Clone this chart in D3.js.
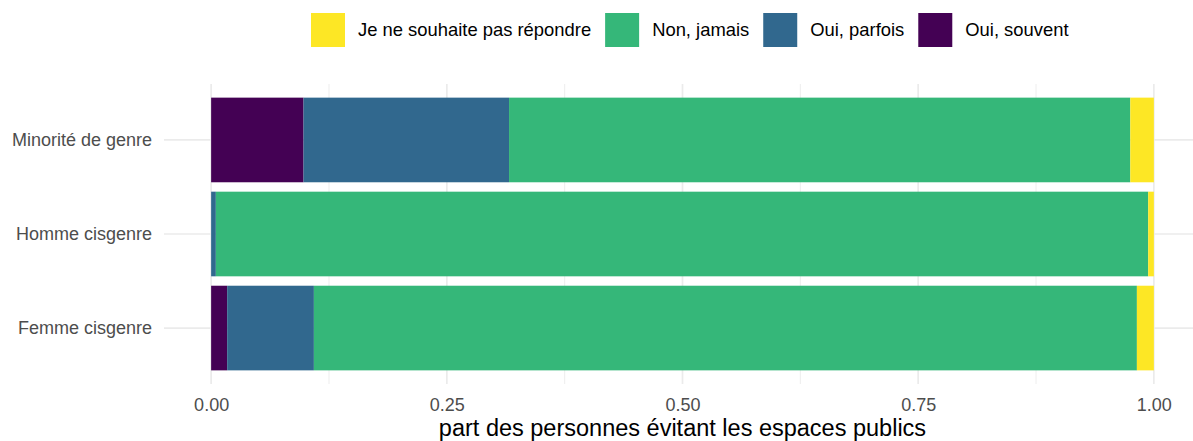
<!DOCTYPE html>
<html>
<head>
<meta charset="utf-8">
<script src="https://cdn.jsdelivr.net/npm/d3@7"></script>
<style>
  body { margin: 0; background: #fff; }
  text { font-family: "Liberation Sans", Arial, sans-serif; }
</style>
</head>
<body>
<div id="chart"></div>
<script>
/* ===== Data ===== */

const categories = ["Minorité de genre", "Homme cisgenre", "Femme cisgenre"];
const answers = ["Oui, souvent", "Oui, parfois", "Non, jamais", "Je ne souhaite pas répondre"];
const legendOrder = ["Je ne souhaite pas répondre", "Non, jamais", "Oui, parfois", "Oui, souvent"];

const souvent = [0.098, 0.000, 0.017];
const parfois = [0.218, 0.005, 0.092];
const jamais  = [0.659, 0.989, 0.873];
const nsp     = [0.025, 0.006, 0.018];

const xTicks = [0, 0.25, 0.5, 0.75, 1];
const xMinor = [0.125, 0.375, 0.625, 0.875];

const colors = {
  "Oui, souvent": "#440154",
  "Oui, parfois": "#31688E",
  "Non, jamais": "#35B779",
  "Je ne souhaite pas répondre": "#FDE725"
};

const rows = categories.map((c, i) => ({
  cat: c,
  "Oui, souvent": souvent[i],
  "Oui, parfois": parfois[i],
  "Non, jamais": jamais[i],
  "Je ne souhaite pas répondre": nsp[i]
}));

/* ===== Layout ===== */

const W = 1193, H = 441;
const panel = { left: 164, right: 1201, top: 84, bottom: 384 };

const svg = d3.select("#chart").append("svg")
  .attr("width", W)
  .attr("height", H);

const x = d3.scaleLinear()
  .domain([-0.05, 1.05])
  .range([panel.left, panel.right]);

const y = d3.scaleBand()
  .domain(categories)
  .range([panel.top, panel.bottom])
  .paddingInner(0.1)
  .paddingOuter(0.145);

/* ===== Grid ===== */

const grid = svg.append("g");

grid.selectAll(".minor")
  .data(xMinor)
  .enter().append("line")
  .attr("x1", d => x(d)).attr("x2", d => x(d))
  .attr("y1", panel.top).attr("y2", panel.bottom)
  .attr("stroke", "#ebebeb").attr("stroke-width", 0.9);

grid.selectAll(".major")
  .data(xTicks)
  .enter().append("line")
  .attr("x1", d => x(d)).attr("x2", d => x(d))
  .attr("y1", panel.top).attr("y2", panel.bottom)
  .attr("stroke", "#ebebeb").attr("stroke-width", 1.7);

grid.selectAll(".hmajor")
  .data(categories)
  .enter().append("line")
  .attr("x1", panel.left).attr("x2", panel.right)
  .attr("y1", d => y(d) + y.bandwidth() / 2)
  .attr("y2", d => y(d) + y.bandwidth() / 2)
  .attr("stroke", "#ebebeb").attr("stroke-width", 1.7);

/* ===== Bars ===== */

const stacked = d3.stack().keys(answers)(rows);

svg.append("g")
  .selectAll("g")
  .data(stacked)
  .enter().append("g")
  .attr("fill", d => colors[d.key])
  .selectAll("rect")
  .data(d => d)
  .enter().append("rect")
  .attr("x", d => x(d[0]))
  .attr("width", d => x(d[1]) - x(d[0]))
  .attr("y", d => y(d.data.cat))
  .attr("height", y.bandwidth());

/* ===== Axes ===== */

const xAxis = svg.append("g")
  .attr("transform", `translate(0,${panel.bottom})`)
  .call(d3.axisBottom(x).tickValues(xTicks).tickFormat(d3.format(".2f")).tickSize(0).tickPadding(14));
xAxis.select(".domain").remove();
xAxis.selectAll("text")
  .style("font-size", "18px")
  .attr("fill", "#4d4d4d");

const yAxis = svg.append("g")
  .attr("transform", `translate(${panel.left},0)`)
  .call(d3.axisLeft(y).tickSize(0).tickPadding(12));
yAxis.select(".domain").remove();
yAxis.selectAll("text")
  .style("font-size", "18px")
  .attr("fill", "#4d4d4d");

svg.append("text")
  .attr("x", (panel.left + panel.right) / 2)
  .attr("y", 436)
  .attr("text-anchor", "middle")
  .style("font-size", "23.5px")
  .attr("fill", "#000")
  .text("part des personnes évitant les espaces publics");

/* ===== Legend ===== */

const legend = svg.append("g");
let lx = 0;
legendOrder.forEach(k => {
  const item = legend.append("g").attr("transform", `translate(${lx},0)`);
  item.append("rect")
    .attr("x", 0).attr("y", 13)
    .attr("width", 34).attr("height", 34)
    .attr("fill", colors[k]);
  const t = item.append("text")
    .attr("x", 47).attr("y", 30)
    .attr("dy", "0.35em")
    .style("font-size", "18.4px")
    .attr("fill", "#000")
    .text(k);
  lx += 47 + t.node().getComputedTextLength() + 14;
});
legend.attr("transform", "translate(311,0)");
</script>
</body>
</html>
